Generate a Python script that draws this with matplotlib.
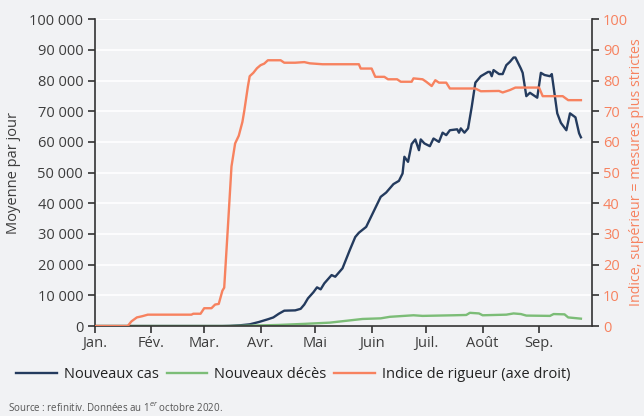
import pandas as pd
import matplotlib
matplotlib.use("Agg")
import matplotlib.pyplot as plt
from matplotlib.ticker import FuncFormatter

plt.rcParams['font.family'] = ['Open Sans', 'DejaVu Sans']

# indice de rigueur (axe droit)
rigueur_dates = ["01-01", "01-19", "01-21", "01-24", "01-27", "01-30", "02-23", "02-24",
                 "02-28", "03-01", "03-05", "03-07", "03-09", "03-11", "03-12", "03-14",
                 "03-16", "03-18", "03-20", "03-22", "03-23", "03-25", "03-26", "03-28",
                 "03-30", "04-01", "04-03", "04-05", "04-12", "04-14", "04-20", "04-25",
                 "04-28", "05-05", "05-25", "05-26", "06-01", "06-03", "06-08", "06-10",
                 "06-15", "06-17", "06-23", "06-24", "06-29", "07-01", "07-04", "07-06",
                 "07-08", "07-12", "07-14", "07-28", "07-31", "08-10", "08-12", "08-16",
                 "08-19", "09-01", "09-03", "09-14", "09-17", "09-24"]
rigueur = [0, 0, 1.5, 2.8, 3.2, 3.7, 3.7, 4.0,
           4.0, 5.8, 5.8, 7.0, 7.2, 11.5, 12.5, 32,
           52, 59.5, 62, 66.5, 70, 78, 81.4, 82.5,
           84, 85, 85.5, 86.6, 86.6, 85.8, 85.8, 86,
           85.6, 85.3, 85.3, 83.9, 83.9, 81.2, 81.2, 80.4,
           80.4, 79.6, 79.6, 80.7, 80.4, 79.6, 78.2, 80.1,
           79.3, 79.3, 77.4, 77.4, 76.5, 76.6, 76.1, 76.9,
           77.7, 77.7, 74.9, 74.9, 73.6, 73.6]

# nouveaux cas (moyenne par jour)
cas_dates = ["01-01", "03-11", "03-15", "03-21", "03-26", "03-31", "04-05", "04-08",
             "04-11", "04-14", "04-20", "04-23", "04-25", "04-27", "04-30", "05-02",
             "05-04", "05-06", "05-10", "05-12", "05-16", "05-20", "05-23", "05-25",
             "05-29", "06-02", "06-06", "06-09", "06-13", "06-16", "06-18", "06-19",
             "06-21", "06-23", "06-25", "06-27", "06-28", "06-30", "07-03", "07-05",
             "07-08", "07-10", "07-12", "07-14", "07-18", "07-19", "07-20", "07-22",
             "07-24", "07-26", "07-28", "07-31", "08-04", "08-05", "08-06", "08-07",
             "08-10", "08-12", "08-14", "08-16", "08-18", "08-19", "08-22", "08-23",
             "08-25", "08-27", "08-29", "08-31", "09-02", "09-04", "09-07", "09-08",
             "09-11", "09-13", "09-16", "09-18", "09-21", "09-23", "09-24"]
cas = [0, 0, 50, 250, 550, 1300, 2200, 2800,
       4000, 5000, 5100, 5600, 7000, 9000, 11000, 12600,
       11950, 13900, 16600, 16060, 18800, 24750, 29000, 30400,
       32300, 37200, 42100, 43500, 46250, 47300, 49700, 55150,
       53500, 59300, 60800, 57300, 60800, 59500, 58600, 61100,
       60000, 63000, 62200, 63800, 64100, 63000, 64400, 63000,
       64400, 71400, 79300, 81400, 82800, 82800, 81400, 83400,
       82100, 82100, 85000, 86100, 87500, 87500, 83900, 82500,
       74900, 76000, 75200, 74400, 82500, 81800, 81400, 82100,
       69300, 66200, 63800, 69300, 68000, 62800, 61500]

# nouveaux décès (moyenne par jour)
deces_dates = ["01-01", "03-13", "03-21", "04-01", "04-11", "04-25", "05-09", "05-27",
               "06-06", "06-11", "06-24", "06-29", "07-16", "07-23", "07-25", "07-30",
               "08-01", "08-14", "08-16", "08-18", "08-22", "08-25", "09-07", "09-09",
               "09-15", "09-17", "09-24"]
deces = [0, 0, 60, 200, 350, 700, 1100, 2300,
         2500, 3000, 3500, 3300, 3500, 3600, 4300, 4100,
         3500, 3700, 3900, 4100, 3900, 3400, 3300, 3900,
         3800, 2800, 2400]

mois = ["Jan.", "Fév.", "Mar.", "Avr.", "Mai", "Juin", "Juil.", "Août", "Sep."]


def to_dates(lst):
    return pd.to_datetime(["2020-" + d for d in lst])


bg = "#f1f2f4"
navy = "#243b5e"
green = "#7cbd77"
orange = "#f7825f"
txt = "#3d3d3d"

fig = plt.figure(figsize=(6.44, 4.16), dpi=100, facecolor=bg)
ax = fig.add_axes([0.1475, 0.2163, 0.7715, 0.7377])
ax.set_facecolor(bg)

l1, = ax.plot(to_dates(cas_dates), cas, color=navy, lw=1.7, label="Nouveaux cas")
l2, = ax.plot(to_dates(deces_dates), deces, color=green, lw=1.7, label="Nouveaux décès")

ax.set_ylim(0, 100000)
ax.set_yticks(range(0, 100001, 10000))
ax.yaxis.set_major_formatter(FuncFormatter(lambda v, p: f"{int(v):,}".replace(",", " ")))
ax.set_xlim(pd.Timestamp("2020-01-01"), pd.Timestamp("2020-09-30"))
ax.set_xticks(pd.date_range("2020-01-01", periods=9, freq="MS"))
ax.set_xticklabels(mois)
ax.grid(axis="y", color="white", lw=1.2)
ax.set_axisbelow(True)
ax.set_ylabel("Moyenne par jour", color=txt, fontsize=10.5, labelpad=6)

for s in ["top", "right"]:
    ax.spines[s].set_visible(False)
for s in ["left", "bottom"]:
    ax.spines[s].set_color("#333333")
    ax.spines[s].set_linewidth(1.2)
ax.tick_params(axis="both", colors="#333333", labelcolor=txt, labelsize=10.5,
               length=5, width=1.2)
ax.tick_params(axis="x", pad=2)

ax2 = ax.twinx()
l3, = ax2.plot(to_dates(rigueur_dates), rigueur, color=orange, lw=1.7,
               label="Indice de rigueur (axe droit)")
ax2.set_ylim(0, 100)
ax2.set_yticks(range(0, 101, 10))
for s in ["top", "left", "bottom"]:
    ax2.spines[s].set_visible(False)
ax2.spines["right"].set_color("#333333")
ax2.spines["right"].set_linewidth(1.2)
ax2.tick_params(axis="y", colors="#333333", labelcolor=orange, labelsize=10.5,
                length=5, width=1.2, pad=3)
ax2.set_ylabel("Indice, supérieur = mesures plus strictes", color=orange,
               fontsize=10.3, labelpad=1)

fig.legend(handles=[l1, l2, l3], loc="center left", bbox_to_anchor=(0.005, 0.1),
           ncol=3, frameon=False, fontsize=10.5, handlelength=2.8,
           columnspacing=0.55, handletextpad=0.45, labelcolor="#222222")

fig.text(0.013, 0.01, "Source : refinitiv. Données au 1$^{er}$ octobre 2020.",
         fontsize=7, color="#555555")

fig.savefig("out.png", dpi=100, facecolor=bg)
